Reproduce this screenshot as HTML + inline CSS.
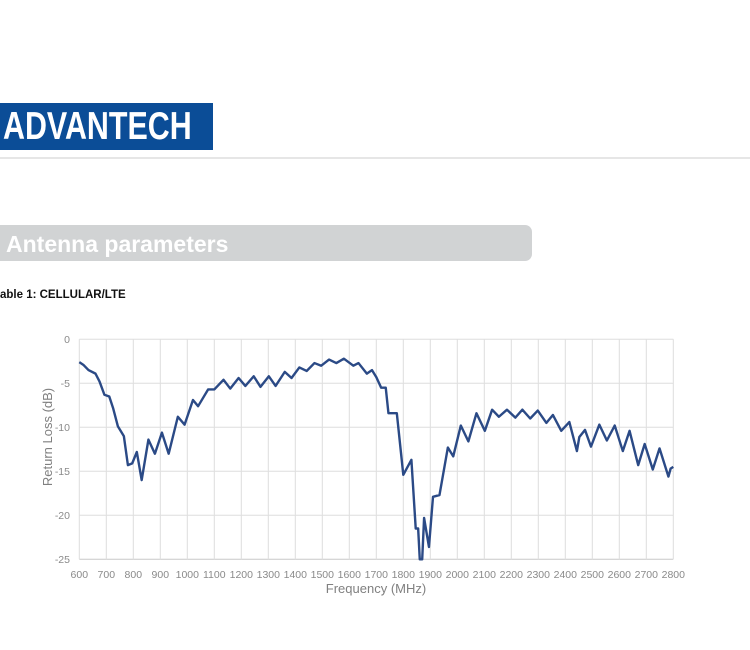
<!DOCTYPE html>
<html><head><meta charset="utf-8"><style>
body{margin:0;width:750px;height:650px;background:#fff;position:relative;overflow:hidden;font-family:"Liberation Sans",sans-serif}
.logo{position:absolute;left:0;top:103px;width:213px;height:47px;background:#0b4d97}
.logo span{position:absolute;left:3px;top:3px;color:#fff;font-weight:bold;font-size:39px;line-height:42px;transform:scaleX(0.78);transform-origin:0 0;white-space:nowrap}
.hr{position:absolute;left:0;top:157px;width:750px;height:2px;background:#e6e6e6}
.ban{position:absolute;left:0;top:225px;width:532px;height:36px;background:#d1d3d4;border-radius:0 7px 7px 0;color:#fff;font-weight:bold;font-size:23px;line-height:39px;padding-left:6px;box-sizing:border-box}
.tab{position:absolute;left:0;top:289px;font-size:11.5px;font-weight:bold;color:#111}
</style></head><body>
<div class="logo"><span>ADVANTECH</span></div>
<div class="hr"></div>
<div class="ban">Antenna parameters</div>
<div class="tab">able 1: CELLULAR/LTE</div>
<svg width="750" height="650" style="position:absolute;left:0;top:0" font-family="Liberation Sans, sans-serif">
<g stroke="#dedede" stroke-width="1">
<line x1="79.3" y1="339.3" x2="673.3" y2="339.3"/><line x1="79.3" y1="383.3" x2="673.3" y2="383.3"/><line x1="79.3" y1="427.3" x2="673.3" y2="427.3"/><line x1="79.3" y1="471.3" x2="673.3" y2="471.3"/><line x1="79.3" y1="515.3" x2="673.3" y2="515.3"/>
<line x1="79.3" y1="559.3" x2="673.3" y2="559.3" stroke="#c8c8c8"/>
</g>
<g stroke="#dedede" id="vg"></g>
<g fill="#8a8a8a" font-size="10.5" text-anchor="end">
<text x="70" y="343">0</text><text x="70" y="387">-5</text><text x="70" y="431">-10</text><text x="70" y="475">-15</text><text x="70" y="519">-20</text><text x="70" y="563">-25</text>
</g>
<g fill="#8a8a8a" font-size="10.5" text-anchor="middle" id="xl"></g>
<text x="376" y="593" fill="#808080" font-size="13" text-anchor="middle">Frequency (MHz)</text>
<text transform="translate(52,437) rotate(-90)" fill="#808080" font-size="13" text-anchor="middle">Return Loss (dB)</text>
<g transform="translate(79.3,339.3) scale(0.27,-8.8) translate(-600,0)">
<polyline fill="none" stroke="#2b4a86" stroke-width="2.4" vector-effect="non-scaling-stroke" stroke-linejoin="round" points="600,-2.6 615,-2.9 634,-3.5 660,-3.9 675,-4.8 693,-6.3 711,-6.5 725,-7.8 743,-9.9 765,-11 780,-14.3 796,-14.1 813,-12.8 831,-16 856,-11.4 880,-13 906,-10.6 931,-13 965,-8.8 990,-9.7 1021,-6.9 1040,-7.6 1077,-5.7 1100,-5.7 1134,-4.6 1159,-5.6 1190,-4.4 1215,-5.3 1246,-4.2 1271,-5.4 1302,-4.2 1327,-5.3 1361,-3.7 1386,-4.4 1415,-3.2 1442,-3.6 1471,-2.7 1496,-3 1525,-2.3 1552,-2.7 1580,-2.2 1615,-3 1634,-2.7 1665,-3.9 1684,-3.5 1700,-4.3 1718,-5.5 1735,-5.5 1745,-8.4 1776,-8.4 1800,-15.4 1830,-13.7 1846,-21.5 1855,-21.5 1861,-25 1870,-25 1877,-20.3 1895,-23.6 1910,-17.9 1934,-17.7 1965,-12.3 1985,-13.3 2013,-9.8 2041,-11.6 2071,-8.4 2102,-10.4 2129,-8 2154,-8.8 2184,-8 2215,-8.9 2241,-8 2270,-9 2298,-8.1 2330,-9.5 2354,-8.6 2385,-10.4 2415,-9.4 2443,-12.7 2452,-11.1 2473,-10.3 2495,-12.2 2526,-9.7 2554,-11.5 2583,-9.8 2613,-12.7 2638,-10.4 2670,-14.3 2694,-11.9 2724,-14.8 2749,-12.4 2782,-15.6 2790,-14.7 2800,-14.5"/>
</g>
</svg>
<script>
var vg=document.getElementById('vg'),xl=document.getElementById('xl'),ns='http://www.w3.org/2000/svg';
for(var f=600;f<=2800;f+=100){var x=79.3+(f-600)*0.27;
var l=document.createElementNS(ns,'line');l.setAttribute('x1',x);l.setAttribute('x2',x);l.setAttribute('y1',339.3);l.setAttribute('y2',559.3);vg.appendChild(l);
var t=document.createElementNS(ns,'text');t.setAttribute('x',x);t.setAttribute('y',578);t.textContent=f;xl.appendChild(t);}
</script>
</body></html>
